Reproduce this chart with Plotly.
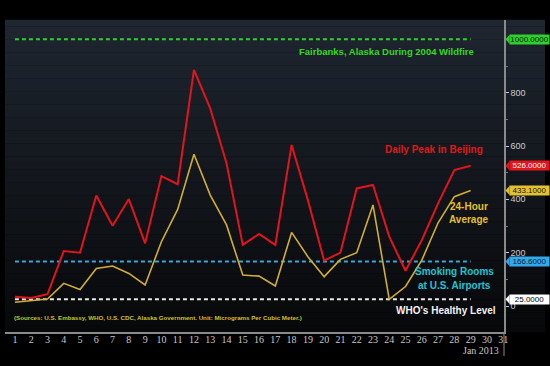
import plotly.graph_objects as go

# ---- data ----
days = list(range(1, 30))
daily_peak = [35, 30, 44, 206, 200, 414, 301, 401, 235, 487,
              457, 885, 741, 535, 229, 270, 229, 604, 397, 170,
              200, 441, 454, 260, 132, 247, 385, 510, 526]
avg_24h = [14, 20, 26, 85, 62, 141, 150, 122, 79, 241,
           362, 569, 416, 304, 116, 112, 75, 276, 185, 110,
           175, 200, 379, 25, 73, 172, 312, 410, 433.1]
ref_fairbanks = 1000
ref_smoking = 166.6
ref_who = 25
x_ticks = list(range(1, 32))
y_ticks = [0, 200, 400, 600, 800]
y_minor = [100, 300, 500, 700, 900]

RED = "#e3141c"
YEL = "#d2ae32"
GRN = "#2fcf2f"
BLU = "#36a6dc"
WHT = "#e8e8e8"
SANS = "Liberation Sans, Arial, sans-serif"
SERIF = "Liberation Serif, DejaVu Serif, serif"

fig = go.Figure()

# reference lines
for val, col in [(ref_fairbanks, GRN), (ref_smoking, BLU), (ref_who, WHT)]:
    fig.add_trace(go.Scatter(x=[days[0], days[-1]], y=[val, val], mode="lines",
                             line=dict(color=col, width=2, dash="4px,3px"),
                             hoverinfo="skip", showlegend=False))

fig.add_trace(go.Scatter(x=days, y=avg_24h, mode="lines",
                         line=dict(color=YEL, width=1.6), showlegend=False))
fig.add_trace(go.Scatter(x=days, y=daily_peak, mode="lines",
                         line=dict(color=RED, width=2), showlegend=False))

# background gradient panel (decoration)
W_PLOT = 499.0
H_PLOT = 312.0
n = 48
top = (31, 38, 48)
bot = (7, 8, 10)
shapes = []
for i in range(n):
    t = i / (n - 1)
    c = tuple(int(round(top[k] + (bot[k] - top[k]) * t)) for k in range(3))
    y1 = 1 - i / n
    y0 = 1 - (i + 1) / n
    shapes.append(dict(type="rect", xref="paper", yref="paper",
                       x0=0, x1=(545 - 5) / W_PLOT, y0=y0, y1=y1 + 0.001,
                       fillcolor="rgb(%d,%d,%d)" % c, line=dict(width=0),
                       layer="below"))

# value tags on right axis
tags = [(ref_fairbanks, "1000.0000", GRN, "#062006"),
        (daily_peak[-1], "%.4f" % daily_peak[-1], RED, "#ffffff"),
        (avg_24h[-1], "%.4f" % avg_24h[-1], "#e2c233", "#1a1400"),
        (ref_smoking, "%.4f" % ref_smoking, "#33a8ec", "#0a1c30"),
        (ref_who, "%.4f" % ref_who, "#ffffff", "#000000")]
annotations = []
px = 1 / W_PLOT
for val, txt, bg, fg in tags:
    shapes.append(dict(type="path", xref="paper", yref="y",
                       path="M %f,%f L %f,%f L %f,%f Z" % (1 + 1.5 * px, val,
                                                            1 + 5.5 * px, val + 17,
                                                            1 + 5.5 * px, val - 17),
                       fillcolor=bg, line=dict(width=0)))
    annotations.append(dict(xref="paper", yref="y", x=1 + 5 * px, y=val,
                            xanchor="left", yanchor="middle", text=txt,
                            showarrow=False, bgcolor=bg, borderpad=0,
                            width=39, height=9,
                            font=dict(family=SANS, size=8, color=fg)))

# text labels
def lab(x_px, y_px, text, color, size=9, anchor="right"):
    annotations.append(dict(xref="paper", yref="paper",
                            x=(x_px - 5) / W_PLOT, y=(332 - y_px) / H_PLOT,
                            xanchor=anchor, yanchor="middle", text=text,
                            showarrow=False, borderpad=0,
                            font=dict(family=SANS, size=size, color=color)))

lab(475, 52, "<b>Fairbanks, Alaska During 2004 Wildfire</b>", "#35d922", 9.5)
lab(484, 149, "<b>Daily Peak in Beijing</b>", "#e01818", 10)
lab(469, 206, "<b>24-Hour</b>", "#e6c12a", 10, "center")
lab(469, 220, "<b>Average</b>", "#e6c12a", 10, "center")
lab(454, 271, "<b>Smoking Rooms</b>", "#23c3d3", 10, "center")
lab(454, 285, "<b>at U.S. Airports</b>", "#23c3d3", 10, "center")
lab(446, 310, "<b>WHO's Healthy Level</b>", "#f2f2f2", 10, "center")
lab(13, 317, "<b>(Sources: U.S. Embassy, WHO, U.S. CDC, Alaska Government. Unit: Micrograms Per Cubic Meter.)</b>",
    "#c9c32a", 6.2, "left")
annotations.append(dict(xref="paper", yref="paper", x=1 - 3 * px, y=(332 - 350) / H_PLOT,
                        xanchor="right", yanchor="middle", text="Jan 2013",
                        showarrow=False, font=dict(family=SERIF, size=10, color="#c8c8c8")))
shapes.append(dict(type="line", xref="paper", yref="paper", x0=1, x1=1,
                   y0=(332 - 356) / H_PLOT, y1=0, line=dict(color="#8a8a8a", width=1)))

fig.update_layout(
    width=550, height=366,
    margin=dict(l=5, r=46, t=20, b=34),
    paper_bgcolor="#000000",
    plot_bgcolor="rgba(0,0,0,0)",
    shapes=shapes,
    annotations=annotations,
    showlegend=False,
    xaxis=dict(range=[0.39, 31.05], tickvals=x_ticks, ticktext=[str(v) for v in x_ticks],
               showgrid=False, zeroline=False, showline=True, linecolor="#8a8a8a",
               linewidth=1.5, ticks="", ticklabelstandoff=-3,
               tickfont=dict(family=SERIF, size=10, color="#c8c8c8")),
    yaxis=dict(range=[-97.5, 1072.5], side="right", tickvals=y_ticks,
               showgrid=False, zeroline=False, showline=True, linecolor="#8a8a8a",
               linewidth=1.5, ticks="outside", ticklen=3, tickcolor="#cccccc",
               minor=dict(ticks="outside", ticklen=2, tickvals=y_minor, tickcolor="#777777"),
               tickfont=dict(family=SANS, size=9, color="#cccccc")),
)

fig.write_html("out.html",
               config={"displayModeBar": False},
               post_script="document.body.style.margin='0';document.body.style.background='#000';")
